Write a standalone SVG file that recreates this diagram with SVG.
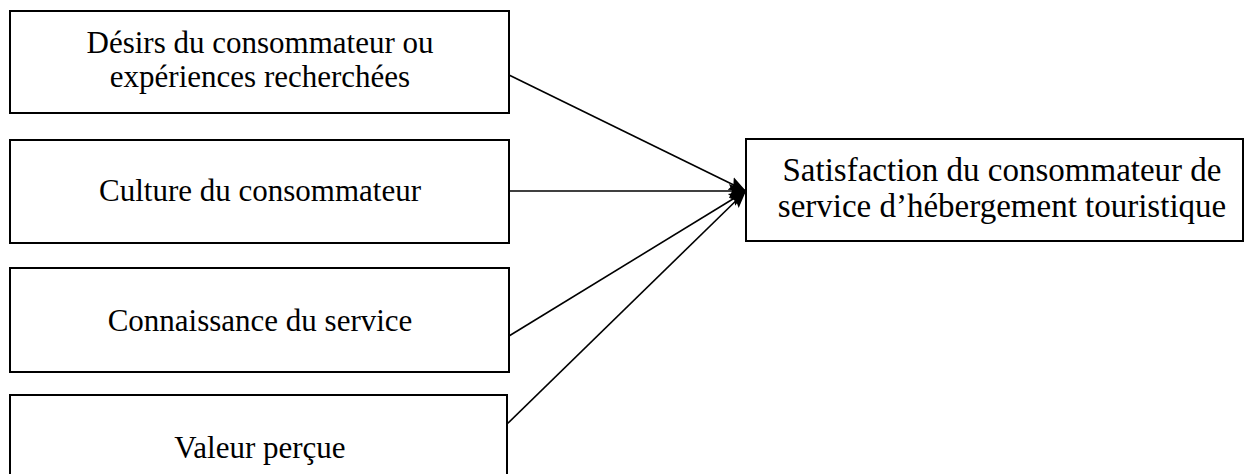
<svg xmlns="http://www.w3.org/2000/svg" width="1244" height="474" viewBox="0 0 1244 474">
<style>
.box{fill:#fff;stroke:#000;stroke-width:2}
.t{font-family:"Liberation Serif","Times New Roman",serif;font-size:31px;fill:#000;text-anchor:middle}
.t2{font-size:33px}
.c{stroke:#000;stroke-width:1.6;fill:none;marker-end:url(#ah)}
</style>
<defs>
<marker id="ah" markerUnits="userSpaceOnUse" markerWidth="20" markerHeight="18" refX="17" refY="9" orient="auto">
<path d="M0,2 L17,9 L0,16 L3,9 Z" fill="#000"/>
</marker>
</defs>
<rect width="1244" height="474" fill="#fff"/>
<g id="n1"><rect class="box" x="10" y="11" width="499" height="102"/>
<text class="t" x="260" y="53">Désirs du consommateur ou</text>
<text class="t" x="260" y="87">expériences recherchées</text></g>
<g id="n2"><rect class="box" x="10" y="140" width="499" height="103"/>
<text class="t" x="260" y="201">Culture du consommateur</text></g>
<g id="n3"><rect class="box" x="10" y="268" width="499" height="104"/>
<text class="t" x="260" y="331">Connaissance du service</text></g>
<g id="n4"><rect class="box" x="10" y="395" width="497" height="100"/>
<text class="t" x="260" y="458">Valeur perçue</text></g>
<g id="n5"><rect class="box" x="746" y="139" width="497" height="102"/>
<text class="t t2" x="1002" y="181">Satisfaction du consommateur de</text>
<text class="t t2" x="1002" y="217">service d’hébergement touristique</text></g>
<g id="connectors">
<line class="c" x1="509" y1="75" x2="746" y2="191"/>
<line class="c" x1="509" y1="191" x2="746" y2="191"/>
<line class="c" x1="509" y1="336" x2="746" y2="191"/>
<line class="c" x1="507" y1="424" x2="746" y2="191"/>
</g>
</svg>
